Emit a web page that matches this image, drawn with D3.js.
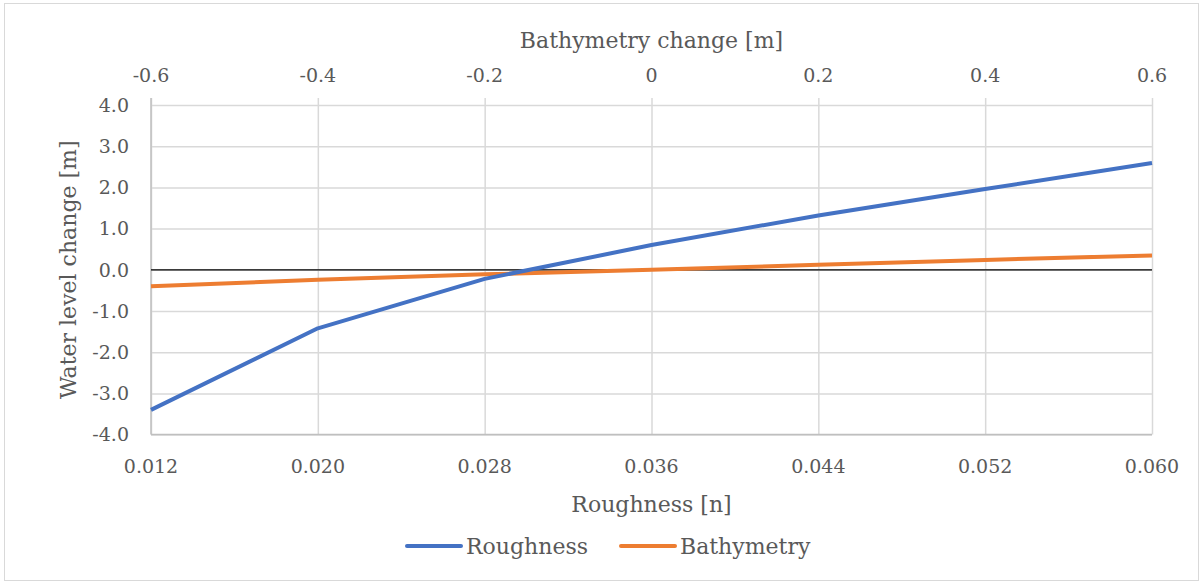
<!DOCTYPE html>
<html>
<head>
<meta charset="utf-8">
<script src="https://cdn.jsdelivr.net/npm/d3@7"></script>
<style>
  body { margin: 0; background: #fff; }
  text { font-family: "DejaVu Serif", serif; fill: #595959; }
</style>
</head>
<body>
<div id="viz"></div>
<script>
// dimensions
var width = 1203;
var height = 585;
var plotLeft = 151, plotRight = 1152, plotTop = 105, plotBottom = 434.6;

// data
var roughnessX = [0.012, 0.020, 0.028, 0.036, 0.044, 0.052, 0.060];
var roughnessY = [-3.40, -1.42, -0.22, 0.60, 1.32, 1.96, 2.59];
var bathyX = [-0.6, -0.4, -0.2, 0, 0.2, 0.4, 0.6];
var bathyY = [-0.40, -0.24, -0.11, 0.0, 0.12, 0.24, 0.35];
var yTicks = [-4, -3, -2, -1, 0, 1, 2, 3, 4];
var seriesNames = ["Roughness", "Bathymetry"];
var seriesColors = ["#4472c4", "#ed7d31"];

var svg = d3.select("#viz")
    .append("svg")
    .attr("width", width)
    .attr("height", height);

// outer border
svg.append("rect")
    .attr("x", 4.5).attr("y", 3.5)
    .attr("width", width - 9).attr("height", height - 8)
    .attr("fill", "none")
    .attr("stroke", "#d9d9d9");

var xBottom = d3.scaleLinear().domain([0.012, 0.060]).range([plotLeft, plotRight]);
var xTop = d3.scaleLinear().domain([-0.6, 0.6]).range([plotLeft, plotRight]);
var y = d3.scaleLinear().domain([-4, 4]).range([plotBottom, plotTop]);

// hyphen instead of unicode minus, like the original
var fmt1 = function(d) { return d3.format(".1f")(d).replace("\u2212", "-"); };

// horizontal gridlines
svg.append("g")
    .attr("transform", "translate(" + plotLeft + ",0)")
    .call(d3.axisLeft(y).tickValues(yTicks).tickSize(-(plotRight - plotLeft)).tickFormat(""))
    .call(function(g) {
        g.select(".domain").remove();
        g.selectAll("line").attr("stroke", "#d9d9d9").attr("stroke-width", 1.5);
    });

// vertical gridlines, poking up through the top axis as ticks
svg.append("g")
    .attr("transform", "translate(0," + plotBottom + ")")
    .call(d3.axisBottom(xTop).tickValues(bathyX).tickSize(-(plotBottom - plotTop + 7)).tickFormat(""))
    .call(function(g) {
        g.select(".domain").remove();
        g.selectAll("line").attr("stroke", "#d9d9d9").attr("stroke-width", 1.5);
    });

// left and bottom axis lines
svg.append("line")
    .attr("x1", plotLeft).attr("x2", plotLeft).attr("y1", plotTop - 7).attr("y2", plotBottom)
    .attr("stroke", "#bfbfbf").attr("stroke-width", 1.5);
svg.append("line")
    .attr("x1", plotLeft).attr("x2", plotRight).attr("y1", plotBottom).attr("y2", plotBottom)
    .attr("stroke", "#bfbfbf").attr("stroke-width", 1.5);

// zero line
svg.append("line")
    .attr("x1", plotLeft).attr("x2", plotRight).attr("y1", y(0)).attr("y2", y(0))
    .attr("stroke", "#000").attr("stroke-width", 1.3);

// y tick labels
svg.selectAll(".ylab")
    .data(yTicks)
    .enter()
    .append("text")
    .attr("x", 129)
    .attr("y", function(d) { return y(d); })
    .attr("dy", "0.36em")
    .attr("text-anchor", "end")
    .attr("font-size", 19)
    .text(fmt1);

// top tick labels
svg.selectAll(".tlab")
    .data(bathyX)
    .enter()
    .append("text")
    .attr("x", function(d) { return xTop(d); })
    .attr("y", 75)
    .attr("dy", "0.36em")
    .attr("text-anchor", "middle")
    .attr("font-size", 19)
    .text(function(d) { return d === 0 ? "0" : fmt1(d); });

// bottom tick labels
svg.selectAll(".blab")
    .data(roughnessX)
    .enter()
    .append("text")
    .attr("x", function(d) { return xBottom(d); })
    .attr("y", 466)
    .attr("dy", "0.36em")
    .attr("text-anchor", "middle")
    .attr("font-size", 19)
    .text(function(d) { return d3.format(".3f")(d); });

// axis titles
svg.append("text")
    .attr("x", (plotLeft + plotRight) / 2).attr("y", 40).attr("dy", "0.36em")
    .attr("text-anchor", "middle").attr("font-size", 22)
    .text("Bathymetry change [m]");
svg.append("text")
    .attr("x", (plotLeft + plotRight) / 2).attr("y", 504).attr("dy", "0.36em")
    .attr("text-anchor", "middle").attr("font-size", 22)
    .text("Roughness [n]");
svg.append("text")
    .attr("transform", "translate(68," + y(0) + ") rotate(-90)")
    .attr("dy", "0.36em")
    .attr("text-anchor", "middle").attr("font-size", 22)
    .text("Water level change [m]");

// series lines
var lineBottom = d3.line()
    .x(function(d) { return xBottom(d[0]); })
    .y(function(d) { return y(d[1]); });
var lineTop = d3.line()
    .x(function(d) { return xTop(d[0]); })
    .y(function(d) { return y(d[1]); });

svg.append("path")
    .datum(d3.zip(bathyX, bathyY))
    .attr("d", lineTop)
    .attr("fill", "none")
    .attr("stroke", seriesColors[1])
    .attr("stroke-width", 4)
    .attr("stroke-linejoin", "round");

svg.append("path")
    .datum(d3.zip(roughnessX, roughnessY))
    .attr("d", lineBottom)
    .attr("fill", "none")
    .attr("stroke", seriesColors[0])
    .attr("stroke-width", 4)
    .attr("stroke-linejoin", "round");

// legend
var legendX = [407, 621];
var legend = svg.selectAll(".leg")
    .data(seriesNames)
    .enter()
    .append("g")
    .attr("transform", function(d, i) { return "translate(" + legendX[i] + ",546)"; });
legend.append("line")
    .attr("x1", 0).attr("x2", 54)
    .attr("stroke", function(d, i) { return seriesColors[i]; })
    .attr("stroke-width", 4)
    .attr("stroke-linecap", "round");
legend.append("text")
    .attr("x", 59)
    .attr("dy", "0.36em")
    .attr("font-size", 22)
    .text(function(d) { return d; });
</script>
</body>
</html>
